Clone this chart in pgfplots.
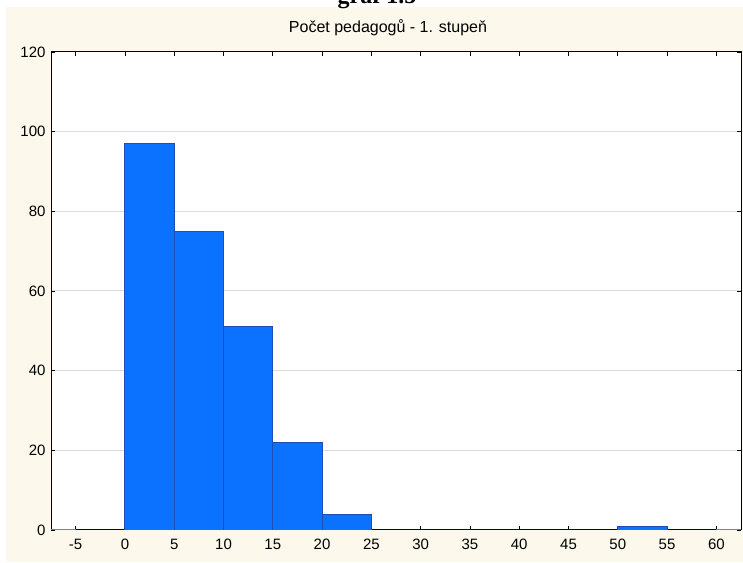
\documentclass[border=0pt]{standalone}
\usepackage{fontspec}
\setmainfont{Liberation Sans}
\newfontfamily\graffont{Liberation Serif}
\usepackage{pgfplots}
\pgfplotsset{compat=1.18}
\definecolor{panel}{HTML}{FCF8EC}
\definecolor{barfill}{HTML}{0A72FF}
\definecolor{baredge}{HTML}{1F4DB8}
\definecolor{gridgray}{HTML}{DCDCDC}

\begin{document}
\begin{tikzpicture}[x=1bp,y=1bp]
\fill[panel] (5.5,1) rectangle (743,556);
\node[font=\graffont\bfseries\fontsize{24bp}{26bp}\selectfont, anchor=base] at (377,559) {graf 1.5};
\begin{axis}[
    at={(51bp,33bp)}, anchor=south west,
    scale only axis, width=690bp, height=478bp,
    xmin=-7.5, xmax=62.5, ymin=0, ymax=120,
    xtick={-5,0,...,60}, ytick={0,20,...,120},
    axis background/.style={fill=white},
    axis line style={black, line width=1bp},
    tick align=inside, major tick length=4bp,
    tick style={black, line width=0.8bp},
    ymajorgrids, major grid style={draw=gridgray, line width=1bp},
    /pgf/number format/assume math mode=true,
    xticklabel={\fontsize{15bp}{18bp}\selectfont\pgfmathprintnumber{\tick}},
    yticklabel={\fontsize{15bp}{18bp}\selectfont\pgfmathprintnumber{\tick}},
    xticklabel style={yshift=-6bp},
    yticklabel style={xshift=-2bp},
    title={Počet pedagogů - 1. stupeň},
    title style={font=\fontsize{16bp}{18bp}\selectfont, at={(0.5,1)}, anchor=base, yshift=14bp, xshift=-8bp},
]
\addplot[ybar interval, fill=barfill, draw=baredge, line width=0.9bp] coordinates {
    (-5,0) (0,97) (5,75) (10,51) (15,22) (20,4) (25,0) (30,0)
    (35,0) (40,0) (45,0) (50,1) (55,0) (60,0)
};
\draw[gray, line width=1bp] (rel axis cs:0,0) -- (axis cs:-5,0);
\draw[gray, line width=1bp] (axis cs:60,0) -- (rel axis cs:1,0);
\end{axis}
\pgfresetboundingbox
\useasboundingbox (0,0) rectangle (743,563);
\end{tikzpicture}
\end{document}
